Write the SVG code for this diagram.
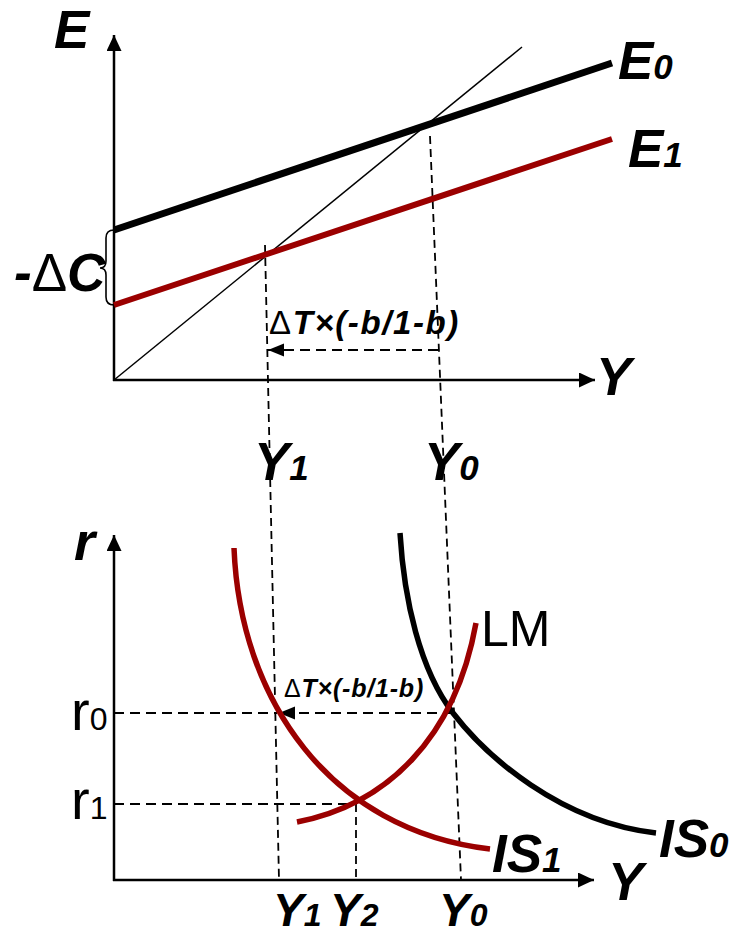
<svg xmlns="http://www.w3.org/2000/svg" width="734" height="937" viewBox="0 0 734 937">
<style>
.lab{font-family:"Liberation Sans",Arial,sans-serif;font-weight:bold;font-style:italic;font-size:53px;fill:#000}
.sub{font-size:35px}
.reg{font-family:"Liberation Sans",Arial,sans-serif;font-weight:normal;font-style:normal;fill:#000}
.sym{font-weight:normal;font-style:normal}
.axis{stroke:#000;stroke-width:2.5;fill:none}
.dash{stroke:#000;stroke-width:1.8;fill:none;stroke-dasharray:8 5}
.hdash{stroke:#000;stroke-width:2;fill:none;stroke-dasharray:10 6}
.red{stroke:#9b0000;fill:none}
.blk{stroke:#000;fill:none}
</style>
<defs>
<marker id="ah" markerUnits="userSpaceOnUse" markerWidth="18" markerHeight="16" refX="16" refY="7.5" orient="auto">
<path d="M0,0 L16,7.5 L0,15 z" fill="#000"/>
</marker>
<marker id="dh" markerUnits="userSpaceOnUse" markerWidth="18" markerHeight="14" refX="16" refY="6.5" orient="auto">
<path d="M0,0 L16,6.5 L0,13 z" fill="#000"/>
</marker>
</defs>
<rect width="734" height="937" fill="#fff"/>

<g id="connectors">
<path class="axis" d="M114,381 L114,35" marker-end="url(#ah)"/>
<path class="axis" d="M113,380 L595,380" marker-end="url(#ah)"/>
<path class="blk" stroke-width="1.5" d="M114,380 L522,47"/>
<path class="dash" d="M430,136 L461,880"/>
<path class="dash" d="M265,245 L279,880"/>
<path class="hdash" d="M438,350 L268,350" marker-end="url(#dh)"/>
<path class="blk" stroke-width="1.6" d="M114,230 Q106,230 106,238 L106,261 Q106,268 100,268 Q106,268 106,275 L106,297 Q106,305 114,305"/>
<path class="axis" d="M114,881 L114,535" marker-end="url(#ah)"/>
<path class="axis" d="M113,880 L594,880" marker-end="url(#ah)"/>
<path class="hdash" d="M114,713 L277,713"/>
<path class="hdash" d="M453,713 L279,713" marker-end="url(#dh)"/>
<path class="hdash" d="M114,804 L357,804"/>
<path class="dash" d="M356,804 L356,880"/>
</g>

<g id="E0">
<path class="blk" stroke-width="7" d="M114,230 L612,63"/>
<text class="lab" x="618" y="79">E<tspan class="sub">0</tspan></text>
</g>
<g id="E1">
<path class="red" stroke-width="6" d="M114,305 L612,139"/>
<text class="lab" x="628" y="167">E<tspan class="sub">1</tspan></text>
</g>

<g id="IS1">
<path class="red" stroke-width="5.5" d="M234,548 C240,700 330,830 490,849"/>
<text class="lab" x="492" y="872">IS<tspan class="sub">1</tspan></text>
</g>
<g id="IS0">
<path class="blk" stroke-width="5.5" d="M400,533 C404,600 420,670 453,713 S560,822 656,833"/>
<text class="lab" x="659" y="857">IS<tspan class="sub">0</tspan></text>
</g>
<g id="LM">
<path class="red" stroke-width="5.5" d="M297,822 C385,805 455,740 476,623"/>
<text class="reg" style="font-size:50px" x="481" y="646">LM</text>
</g>

<g id="labels">
<text class="lab" x="54" y="48">E</text>
<text class="lab" x="596" y="395">Y</text>
<text class="lab" x="14" y="291">-<tspan class="sym">Δ</tspan>C</text>
<text class="lab" style="font-size:33px;letter-spacing:1.6px" x="269" y="334"><tspan class="sym">Δ</tspan>T×(-b/1-b)</text>
<text class="lab" x="254" y="480">Y<tspan class="sub">1</tspan></text>
<text class="lab" x="424" y="480">Y<tspan class="sub">0</tspan></text>
<text class="lab" style="font-size:54px" x="74" y="560">r</text>
<text class="reg" style="font-size:56px" x="71" y="730">r<tspan style="font-size:32px">0</tspan></text>
<text class="reg" style="font-size:56px" x="71" y="819">r<tspan style="font-size:32px">1</tspan></text>
<text class="lab" style="font-size:25px;letter-spacing:0.8px" x="284" y="697"><tspan class="sym">Δ</tspan>T×(-b/1-b)</text>
<text class="lab" style="font-size:46px" x="273" y="926">Y<tspan style="font-size:32px">1</tspan></text>
<text class="lab" style="font-size:46px" x="330" y="926">Y<tspan style="font-size:32px">2</tspan></text>
<text class="lab" style="font-size:46px" x="439" y="926">Y<tspan style="font-size:32px">0</tspan></text>
<text class="lab" x="608" y="900">Y</text>
</g>
</svg>
